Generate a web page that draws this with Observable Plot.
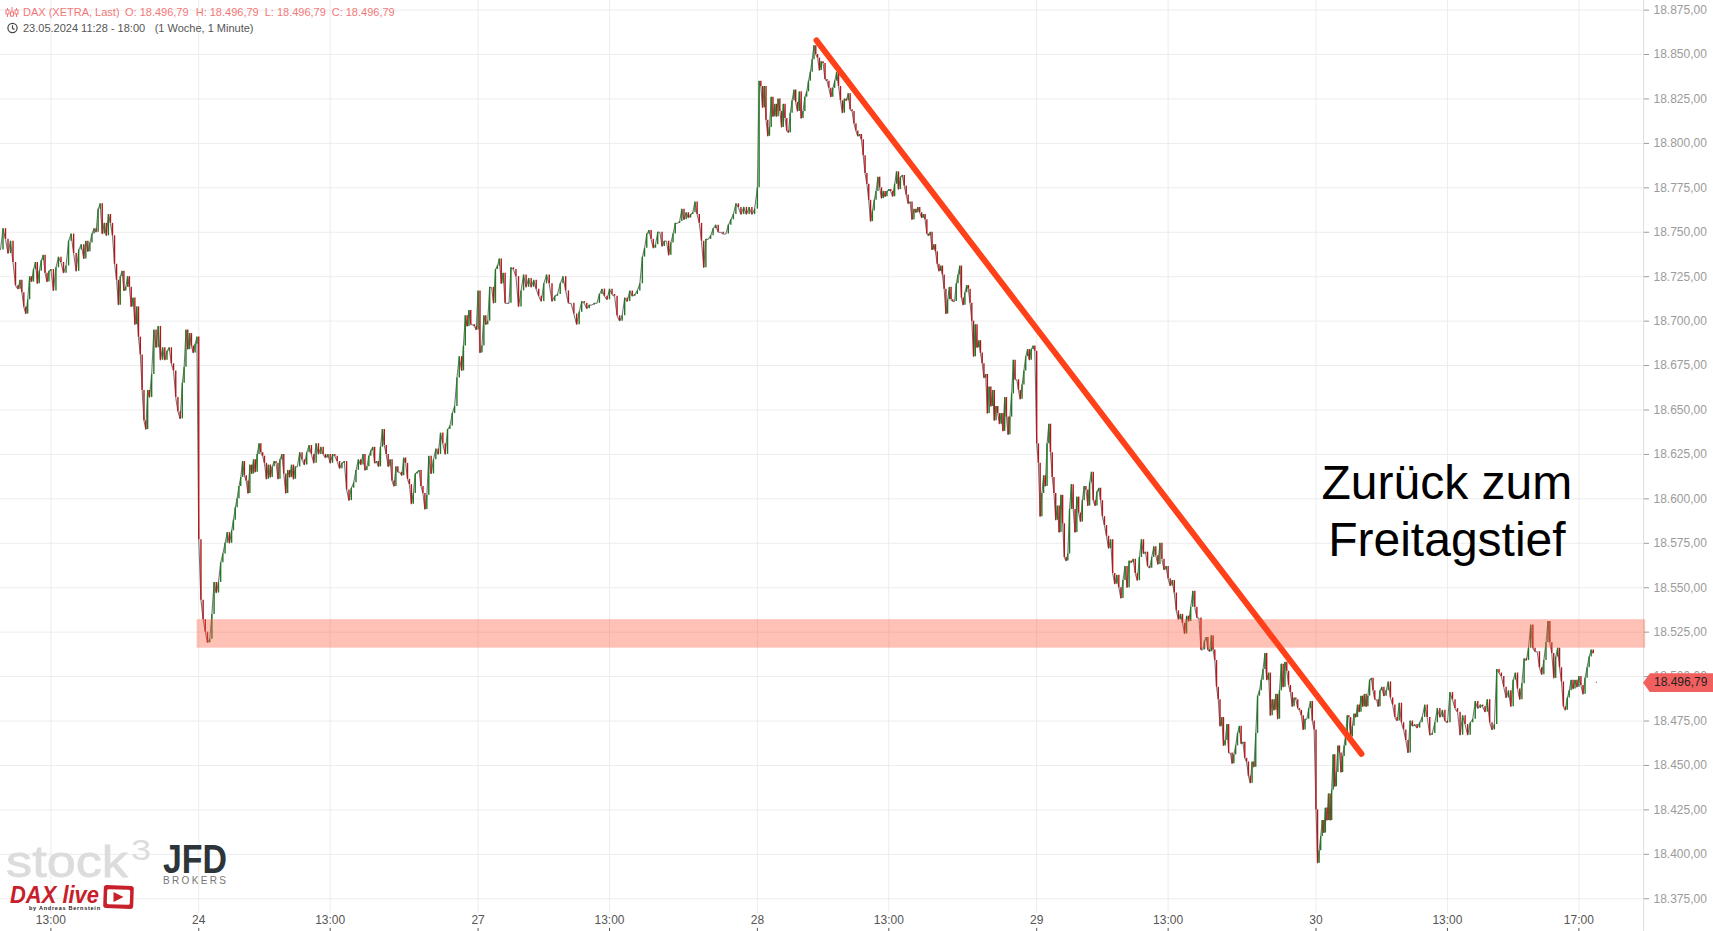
<!DOCTYPE html>
<html>
<head>
<meta charset="utf-8">
<script src="https://cdn.jsdelivr.net/npm/d3@7"></script>
<script src="https://cdn.jsdelivr.net/npm/@observablehq/plot@0.6"></script>
<style>
html,body{margin:0;padding:0;background:#fff;overflow:hidden}
body{position:relative;width:1713px;height:931px;font-family:"Liberation Sans",Arial,sans-serif}
#chart svg{display:block}
.hdr{position:absolute;font-size:11px;line-height:14px;white-space:pre}
#logos{position:absolute;left:0;top:0;pointer-events:none}
#tag{position:absolute;left:1643px;width:70px;height:19px;background:#f25f5f;clip-path:polygon(0 50%,7px 0,100% 0,100% 100%,7px 100%);color:#222;font-size:12px;line-height:19px;padding-left:11px;box-sizing:border-box}
</style>
</head>
<body>
<div id="chart"></div>
<script>
// minutes relative to the 24.05. open; rows are sampled prices inside each clock hour
const edges23 = [-362,-330,-270,-210,-150,-90,-30,0];
const sessionEdges = [0,60,120,180,240,300,360,420,480,510];
const sessionStarts = {s24:0,s27:510,s28:1020,s29:1530,s30:2040};

const s23 = [
 [18740,18752,18746,18738,18745,18733,18720],
 [18718,18723,18716,18708,18704,18712,18725,18722,18729,18733,18721,18728,18734,18737,18727,18722,18728],
 [18729,18717,18730,18736,18733,18727,18731,18745,18749,18738,18728,18740,18743],
 [18735,18745,18739,18744,18749,18752,18750,18763,18766,18749,18755,18748,18760,18755,18748,18732],
 [18723,18709,18725,18728,18717,18719,18725,18719,18708,18713,18698,18708,18691,18681,18661,18644,18639,18661],
 [18657,18670,18695,18685,18697,18678,18685,18678,18683,18685,18676,18672,18657,18649,18645],
 [18665,18674,18695,18684,18693,18686,18682,18687,18691]
];
const s24 = [
 [18577,18543,18532,18525,18519,18521,18535,18553,18547,18553,18564,18569,18575,18581,18575],
 [18582,18588,18595,18600,18607,18612,18621,18613,18610,18603,18619,18614,18622,18615,18625,18631,18626,18624],
 [18620,18611,18619,18612,18618,18621,18620,18611,18622,18625,18614,18603,18616,18612,18619,18611,18618],
 [18618,18626,18622,18619,18626,18630,18625,18620,18631,18625,18629,18625,18623,18625],
 [18620,18625,18624,18621,18617,18620,18621,18605,18599,18606,18609,18616,18622,18619],
 [18625,18616,18618,18624,18627,18629,18620,18621,18618,18629,18639,18630,18625,18618,18622,18610,18607],
 [18618,18615,18615,18613,18623,18620,18611,18608,18597,18603,18614,18615,18616,18607,18603,18594,18602],
 [18624,18614,18622,18628,18625,18637,18631,18625,18639,18641,18648,18652,18668,18680],
 [18672,18686,18703,18697,18706,18698,18698,18697,18695]
];
const s27 = [
 [18717,18682,18686,18703,18698,18700,18719,18719,18710,18729,18731,18735,18721,18727,18710,18710,18710],
 [18730,18729,18725,18708,18717,18726,18719,18724,18719,18723,18718,18714,18711],
 [18721,18726,18721,18711,18714,18715,18721,18725,18717,18710,18710,18704],
 [18698,18705,18711,18710,18707,18709,18709,18710,18710,18715,18718,18714,18712],
 [18718,18715,18714,18703,18700,18703,18713,18711,18717,18714,18715,18717,18721],
 [18736,18741,18749,18751,18746,18741,18743,18750,18750,18742,18745,18745,18737,18744,18749],
 [18755,18755,18756,18763,18757,18761,18758,18760,18761,18767,18760,18755,18745,18730,18746],
 [18746,18748,18752,18754,18750,18750,18749,18749,18754,18757,18760,18766,18764],
 [18760,18764,18760,18764,18760,18763]
];
const s28 = [
 [18775,18835,18832,18820,18832,18813,18804,18809,18826,18815,18822,18815,18825,18818,18809,18822,18814,18807,18806],
 [18817,18824,18830,18823,18818,18829,18814,18818,18826,18829,18835,18840,18847,18855,18850,18848,18841,18846],
 [18845,18836,18835,18831,18826,18831,18835,18840,18832,18824,18817,18825,18824,18828,18819,18818,18811],
 [18807,18804,18805,18802,18793,18783,18777,18768,18756,18762,18768,18773,18781,18775,18769,18773,18770,18773],
 [18774,18773,18770,18777,18784,18774,18781,18782,18776,18771,18766,18767,18757,18763,18761,18764,18761],
 [18758,18760,18757,18749,18748,18750,18740,18743,18739,18732,18728,18731,18726,18718,18704,18712,18719,18712,18711],
 [18711,18721,18726,18731,18713,18709,18716,18720,18718,18710,18700,18680,18698,18685,18689,18682,18676,18668,18670],
 [18648,18663,18652,18661,18644,18652,18648,18642,18648,18638,18657,18646,18636,18646,18659,18678,18667,18667,18661],
 [18656,18664,18672,18680,18684,18678,18684,18686,18683]
];
const s29 = [
 [18631,18620,18590,18603,18613,18607,18631,18642,18626,18612,18603,18588,18596,18581,18602,18586,18567,18565,18569],
 [18594,18608,18594,18581,18601,18592,18587,18599,18607,18605,18596,18609,18615,18599,18596,18604,18606,18599],
 [18590,18585,18579,18572,18577,18558,18552,18557,18550,18544,18554,18562,18550,18565,18564,18566],
 [18558,18554,18567,18577,18569,18570,18562,18561,18567,18573,18568,18563,18575,18566,18560,18562],
 [18555,18551,18554,18547,18537,18532,18535,18530,18524,18534,18531,18539,18548,18539,18533,18533],
 [18515,18515,18520,18522,18515,18514,18523,18515,18509,18494,18487,18472,18477,18461,18464,18473,18457,18457,18451],
 [18456,18461,18468,18472,18462,18463,18454,18452,18444,18440,18452,18449,18468,18489,18492,18498,18504,18513],
 [18498,18502,18478,18487,18481,18490,18476,18492,18507,18494,18508,18503,18495,18491,18483,18488,18487,18482],
 [18481,18478,18470,18476,18476,18482,18486,18475,18470]
];
const s30 = [
 [18425,18395,18402,18410,18419,18412,18426,18419,18434,18419,18436,18456,18438,18446,18461,18457,18446,18455,18461,18468,18478],
 [18477,18466,18472,18479,18477,18484,18480,18489,18483,18490,18483,18489,18498,18499,18492,18487,18487,18483,18492],
 [18494,18489,18492,18497,18488,18484,18477,18475,18485,18474,18470,18464,18457,18475,18472],
 [18473,18471,18474,18477,18484,18477,18467,18468,18474,18482,18477,18481,18475],
 [18474,18491,18487,18482,18480,18467,18478,18473,18467,18474,18476,18486,18482],
 [18484,18483,18480,18487,18474,18470,18473,18504,18502,18500,18494,18488,18492,18483],
 [18498,18502,18493,18487,18496,18510,18509,18516,18529,18516,18514,18514,18505,18501,18509],
 [18519,18531,18519,18513,18499,18511,18516,18505,18497,18483,18481,18488,18492,18498,18493,18498,18494],
 [18500,18495,18490,18499,18505,18511,18515,18513]
];

const lastPrice = 18496.79;
const yTicks = d3.range(18375, 18876, 25);
const xTicks = [-270,0,240,510,750,1020,1260,1530,1770,2040,2280,2520];
const xLabels = ["13:00","24","13:00","27","13:00","28","13:00","29","13:00","30","13:00","17:00"];
const trendTimes = [1128,2123];
const trendPrices = [18857.9,18456.5];
const zoneTimes = [-3,2642];
const zonePrices = [18516,18532];
const noteTime = 2279;
const notePrice = 18594;

const bars = [];
const addRows = (rows, e) => rows.forEach((row,i) => row.forEach((close,j) => {
  bars.push({t: e[i] + j/row.length*(e[i+1]-e[i]), close});
}));
addRows(s23, edges23);
addRows(s24, sessionEdges.map(m=>m+sessionStarts.s24));
addRows(s27, sessionEdges.map(m=>m+sessionStarts.s27));
addRows(s28, sessionEdges.map(m=>m+sessionStarts.s28));
addRows(s29, sessionEdges.map(m=>m+sessionStarts.s29));
addRows(s30, sessionEdges.map(m=>m+sessionStarts.s30));
bars.forEach((b,i)=>{b.prev = i? bars[i-1].close : b.close; b.tPrev = i? bars[i-1].t : b.t;});

const xEnd = 2638, yBottom = 18366.7, yTop = 18880.4;
const fmt = d3.formatLocale({decimal:",",thousands:".",grouping:[3],currency:["",""]}).format(",.2f");
const green = "#1f7a1f", red = "#b8141a", wick = "#777", grid = "#ececec";
const dirColor = d => d.close>=d.prev ? green : red;

const chart = Plot.plot({
  width:1713, height:931, marginTop:0, marginLeft:0, marginRight:70, marginBottom:18,
  style:{fontFamily:'"Liberation Sans",Arial,sans-serif',background:"#fff"},
  x:{domain:[-362,xEnd], label:null},
  y:{domain:[yBottom,yTop], label:null},
  marks:[
    Plot.ruleY(yTicks,{stroke:grid,strokeWidth:1}),
    Plot.ruleX(xTicks,{stroke:grid,strokeWidth:1}),
    Plot.ruleX([xEnd],{y1:18356.6,y2:yTop,stroke:"#dedede",strokeWidth:1}),
    Plot.axisY({anchor:"right",ticks:yTicks,tickFormat:fmt,tickSize:5,tickPadding:5,fontSize:12,color:"#9b9b9b",label:null}),
    Plot.axisX({anchor:"bottom",ticks:xTicks,tickFormat:d=>xLabels[xTicks.indexOf(d)],tickSize:0,tickPadding:2,fontSize:12,color:"#555",label:null}),
    Plot.ruleX(xTicks,{y1:18358.3,y2:18356.6,stroke:"#555",strokeWidth:1}),
    Plot.link(bars,{x1:"tPrev",y1:"prev",x2:"t",y2:"close",stroke:wick,strokeWidth:1.1}),
    Plot.ruleX(bars,{x:"t",y1:"prev",y2:"close",stroke:dirColor,strokeWidth:1.4}),
    Plot.dot([{t:2552,p:lastPrice}],{x:"t",y:"p",r:0.7,fill:"#888"}),
    Plot.rect([{}],{x1:()=>zoneTimes[0],x2:()=>zoneTimes[1],y1:()=>zonePrices[0],y2:()=>zonePrices[1],fill:"#ff5a3c",fillOpacity:0.38}),
    Plot.line(trendTimes.map((t,i)=>({t,p:trendPrices[i]})),{x:"t",y:"p",stroke:"#ff4018",strokeWidth:6}),
    Plot.text(["Zurück zum\nFreitagstief"],{x:()=>noteTime,y:()=>notePrice,fontSize:48,lineHeight:1.17,textAnchor:"middle",lineAnchor:"middle",fill:"#000"})
  ]
});
document.getElementById("chart").appendChild(chart);

const vals = fmt(lastPrice);
function hdr(text,left,top,color){const d=document.createElement("div");d.className="hdr";d.textContent=text;d.style.left=left+"px";d.style.top=top+"px";d.style.color=color;document.body.appendChild(d);}
const pink="#f27878", dark="#555";
hdr("DAX (XETRA, Last)",23,5,pink);
hdr("O: "+vals,125,5,pink);
hdr("H: "+vals,195.7,5,pink);
hdr("L: "+vals,264.7,5,pink);
hdr("C: "+vals,331.7,5,pink);
hdr("23.05.2024 11:28 - 18:00",23,21,dark);
hdr("(1 Woche, 1 Minute)",154.7,21,dark);

const tag=document.createElement("div");tag.id="tag";tag.textContent=vals;
tag.style.top=(chart.scale("y").apply(lastPrice)-8.5)+"px";document.body.appendChild(tag);

const ns='<svg id="logos" width="1713" height="931" xmlns="http://www.w3.org/2000/svg" font-family="Liberation Sans,Arial,sans-serif">'
+'<g stroke="'+pink+'" fill="none" stroke-width="1"><path d="M7.5 8v9M12 7v10M16.5 8v9"/><rect x="6" y="10" width="3" height="4" fill="#fff"/><rect x="10.5" y="12" width="3" height="4" fill="#fff"/><rect x="15" y="10" width="3" height="4" fill="#fff"/></g>'
+'<g stroke="#444" fill="none" stroke-width="1.2"><circle cx="12.5" cy="28" r="4.6"/><path d="M12.5 25.3v3l2 1.2"/></g>'
+'<text x="6" y="877" font-size="45" fill="#dcdcdc" stroke="#dcdcdc" stroke-width="0.8" textLength="122" lengthAdjust="spacingAndGlyphs">stock</text>'
+'<text x="131" y="860" font-size="29" fill="#dcdcdc" textLength="20" lengthAdjust="spacingAndGlyphs">3</text>'
+'<text x="163" y="873" font-size="41" font-weight="bold" fill="#2d343a" textLength="64" lengthAdjust="spacingAndGlyphs">JFD</text>'
+'<text x="163" y="884" font-size="10" fill="#777" textLength="63" lengthAdjust="spacing">BROKERS</text>'
+'<text x="10" y="903" font-size="23" font-weight="bold" font-style="italic" fill="#c8202a" textLength="89" lengthAdjust="spacingAndGlyphs">DAX live</text>'
+'<text x="29" y="909.5" font-size="5.5" font-weight="bold" fill="#222" textLength="71" lengthAdjust="spacing">by Andreas Bernstein</text>'
+'<rect x="103.5" y="885.5" width="30" height="23" rx="3" fill="#c8202a" transform="rotate(2 118 897)"/>'
+'<rect x="107" y="889.5" width="23" height="15" rx="1.5" fill="#fff" transform="rotate(2 118 897)"/>'
+'<path d="M113.5 892l10 5-10 5z" fill="#c8202a"/>'
+'</svg>';
document.body.insertAdjacentHTML("beforeend",ns);
</script>
</body>
</html>
